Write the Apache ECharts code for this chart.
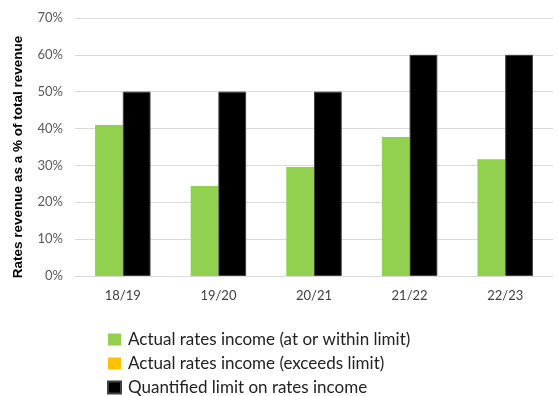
<!DOCTYPE html>
<html>
<head>
<meta charset="utf-8">
<script src="https://cdn.jsdelivr.net/npm/echarts@6/dist/echarts.min.js"></script>
<style>
  html, body { margin: 0; padding: 0; background: #fff; }
  #main { width: 558px; height: 396px; }
</style>
</head>
<body>
<div id="main"></div>
<script>
var years = ['18/19', '19/20', '20/21', '21/22', '22/23'];
var withinLimit = [0.41, 0.244, 0.296, 0.377, 0.317];
var exceedsLimit = [null, null, null, null, null];
var quantLimit = [0.50, 0.50, 0.50, 0.60, 0.60];

var myChart = echarts.init(document.getElementById('main'));
var font = 'Lato';

var option = {
    animation: false,
    textStyle: { fontFamily: font },
    legend: {
        orient: 'vertical',
        left: 102,
        top: 326,
        height: 72,
        itemWidth: 13,
        itemHeight: 12,
        itemGap: 7,
        icon: 'rect',
        textStyle: { fontFamily: font, fontSize: 17, color: '#222', padding: [0, 0, 0, 2] },
        data: ['Actual rates income (at or within limit)', 'Actual rates income (exceeds limit)', 'Quantified limit on rates income']
    },
    grid: {
        left: 75,
        right: 5,
        top: 18,
        bottom: 120
    },
    xAxis: {
        type: 'category',
        data: years,
        axisTick: { show: false },
        axisLine: { lineStyle: { color: '#d9d9d9' } },
        axisLabel: { color: '#404040', fontSize: 13, margin: 13 }
    },
    yAxis: {
        type: 'value',
        min: 0,
        max: 0.7,
        interval: 0.1,
        splitLine: { lineStyle: { color: '#d9d9d9' } },
        axisLabel: {
            color: '#595959',
            fontSize: 13,
            margin: 12,
            formatter: function (v) { return Math.round(v * 100) + '%'; }
        }
    },
    graphic: [{
        type: 'text',
        x: 18,
        y: 157,
        rotation: Math.PI / 2,
        style: {
            text: 'Rates revenue as a % of total revenue',
            fontFamily: 'Liberation Sans',
            fontWeight: 'bold',
            fontSize: 13.5,
            fill: '#000',
            align: 'center',
            verticalAlign: 'middle'
        }
    }],
    series: [
        {
            name: 'Actual rates income (at or within limit)',
            type: 'bar',
            stack: 'actual',
            barGap: 0,
            barCategoryGap: '42%',
            itemStyle: { color: '#92d050' },
            data: withinLimit
        },
        {
            name: 'Actual rates income (exceeds limit)',
            type: 'bar',
            stack: 'actual',
            itemStyle: { color: '#ffc000' },
            data: exceedsLimit
        },
        {
            name: 'Quantified limit on rates income',
            type: 'bar',
            itemStyle: { color: '#000000', borderColor: '#404040', borderWidth: 1 },
            data: quantLimit
        }
    ]
};
myChart.setOption(option);
</script>
</body>
</html>
